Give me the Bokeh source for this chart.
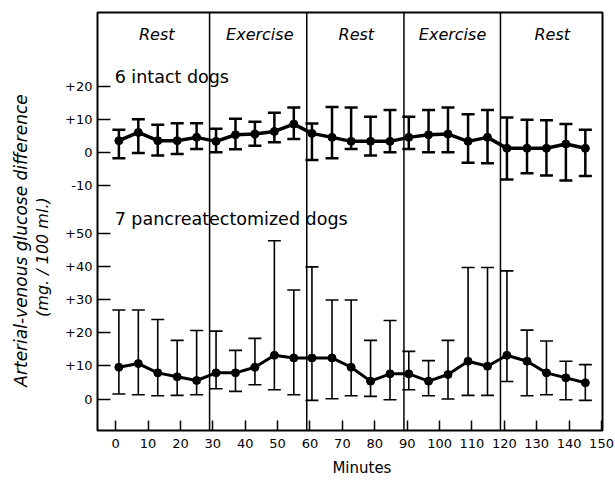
from bokeh.plotting import figure
from bokeh.models import FixedTicker, Span, Label, Whisker, ColumnDataSource, TeeHead, LinearAxis
from bokeh.embed import file_html
from bokeh.resources import INLINE

# ---- data ----
minutes = [1, 7, 13, 19, 25, 31, 37, 43, 49, 55, 60.6, 66.8, 72.7, 78.7, 84.7,
           90.5, 96.6, 102.6, 108.8, 114.8, 120.8, 127, 133, 139, 145]

intact_mean = [3.5, 6.0, 3.5, 3.5, 4.5, 3.3, 5.3, 5.5, 6.3, 8.5, 5.7, 4.5, 3.3,
               3.3, 3.3, 4.5, 5.3, 5.5, 3.3, 4.5, 1.2, 1.2, 1.2, 2.5, 1.2]
intact_upper = [6.8, 10.0, 8.3, 8.8, 8.8, 7.1, 10.1, 9.2, 11.9, 13.5, 8.7, 13.7,
                13.5, 10.7, 12.8, 10.7, 12.8, 13.5, 11.5, 12.8, 10.5, 9.8, 9.7, 8.5, 6.8]
intact_lower = [-1.8, -0.2, -1.0, -0.5, 1.0, 0.0, 0.9, 2.0, 3.0, 4.0, -2.3, -1.8,
                1.0, -1.0, 0.0, 1.0, 0.0, 0.0, -3.2, -3.3, -8.2, -6.3, -7.0, -8.5, -7.2]

panc_mean = [9.6, 10.7, 7.9, 6.7, 5.6, 7.9, 7.9, 9.6, 13.2, 12.4, 12.4, 12.4, 9.6,
             5.4, 7.6, 7.6, 5.4, 7.4, 11.4, 9.9, 13.2, 11.4, 7.9, 6.4, 4.9]
panc_upper = [26.9, 26.9, 24.0, 17.7, 20.7, 20.5, 14.7, 18.3, 47.8, 32.9, 39.9, 29.9,
              29.9, 17.7, 23.7, 14.4, 11.6, 17.7, 39.7, 39.7, 38.7, 20.8, 17.5, 11.4, 10.4]
panc_lower = [1.5, 1.3, 1.0, 1.1, 1.3, 3.1, 2.3, 4.3, 2.8, 1.3, -0.4, 0.1, 1.0,
              0.8, -0.2, 2.8, 1.0, 0.0, 1.1, 1.1, 5.3, 1.0, 1.3, -0.2, -0.4]

phase_bounds = [29, 59, 89, 118.8]
phase_names = ["Rest", "Exercise", "Rest", "Exercise", "Rest"]
phase_centers = [12.7, 44.5, 74.3, 104, 134.8]

x_ticks = [0, 10, 20, 30, 40, 50, 60, 70, 80, 90, 100, 110, 120, 130, 140, 150]
top_ticks = [-10, 0, 10, 20]
top_tick_labels = ["-10", "0", "+10", "+20"]
bottom_ticks = [0, 10, 20, 30, 40, 50]
bottom_tick_labels = ["0", "+10", "+20", "+30", "+40", "+50"]

# layout: upper panel drawn above the lower one on a shared scale
TOP_OFFSET = 74.5
FONT = "DejaVu Sans"

p = figure(width=615, height=481, x_range=(-5.6, 150.3), y_range=(-9.5, 116.7),
           output_backend="svg", toolbar_location=None,
           min_border_left=97, min_border_right=13, min_border_top=12, min_border_bottom=51)
p.grid.visible = False
p.outline_line_color = "black"
p.outline_line_width = 2
p.background_fill_color = "white"
p.border_fill_color = "white"

# x axis
p.xaxis.ticker = FixedTicker(ticks=x_ticks)
p.xaxis.major_tick_in = 10
p.xaxis.major_tick_out = 0
p.xaxis.minor_tick_line_color = None
p.xaxis.axis_line_color = None
p.xaxis.major_tick_line_width = 1.5
p.xaxis.major_tick_line_color = "black"
p.xaxis.major_label_standoff = 8
p.xaxis.major_label_text_font = FONT
p.xaxis.major_label_text_font_size = "13px"
p.xaxis.major_label_text_color = "black"
p.xaxis.axis_label = "\u00a0" * 5 + "Minutes"
p.xaxis.axis_label_standoff = 8
p.xaxis.axis_label_text_font = FONT
p.xaxis.axis_label_text_font_size = "15px"
p.xaxis.axis_label_text_font_style = "normal"
p.xaxis.axis_label_text_color = "black"

# y axis (both panels)
top_pos = [t + TOP_OFFSET for t in top_ticks]
p.yaxis.ticker = FixedTicker(ticks=bottom_ticks + top_pos)
overrides = {}
for t, lab in zip(bottom_ticks, bottom_tick_labels):
    overrides[t] = lab
for t, lab in zip(top_pos, top_tick_labels):
    overrides[t] = lab
p.yaxis.major_label_overrides = overrides
p.yaxis.major_tick_in = 13
p.yaxis.major_tick_out = 0
p.yaxis.minor_tick_line_color = None
p.yaxis.axis_line_color = None
p.yaxis.major_tick_line_width = 1.5
p.yaxis.major_tick_line_color = "black"
p.yaxis.major_label_standoff = 5
p.yaxis.major_label_text_font = FONT
p.yaxis.major_label_text_font_size = "13px"
p.yaxis.major_label_text_color = "black"
p.yaxis.axis_label = "(mg. / 100 ml.)" + " " * 14
p.yaxis.axis_label_standoff = 10
p.yaxis.axis_label_text_font = FONT
p.yaxis.axis_label_text_font_size = "16px"
p.yaxis.axis_label_text_font_style = "italic"
p.yaxis.axis_label_text_color = "black"

# outer title line of the y axis
outer = LinearAxis(ticker=FixedTicker(ticks=[]), axis_line_color=None,
                   major_tick_in=0, major_tick_out=0, minor_tick_in=0, minor_tick_out=0,
                   major_label_standoff=0,
                   axis_label="Arterial-venous glucose difference" + " " * 7,
                   axis_label_standoff=0, axis_label_text_font=FONT,
                   axis_label_text_font_size="17px", axis_label_text_font_style="italic",
                   axis_label_text_color="black")
p.add_layout(outer, "left")

# phase dividers and labels
for b in phase_bounds:
    p.add_layout(Span(location=b, dimension="height", line_color="black", line_width=1.5))
for name, cx in zip(phase_names, phase_centers):
    p.add_layout(Label(x=cx, y=110.2, text=name, text_align="center", text_baseline="middle",
                       text_font=FONT, text_font_size="16px", text_font_style="italic",
                       text_color="black"))

p.add_layout(Label(x=-0.3, y=97.2, text="6 intact dogs", text_baseline="middle",
                   text_font=FONT, text_font_size="17.5px", text_color="black"))
p.add_layout(Label(x=-0.3, y=54.3, text="7 pancreatectomized dogs", text_baseline="middle",
                   text_font=FONT, text_font_size="17.5px", text_color="black"))

# upper panel: intact dogs
src_top = ColumnDataSource(dict(
    x=minutes,
    y=[v + TOP_OFFSET for v in intact_mean],
    upper=[v + TOP_OFFSET for v in intact_upper],
    lower=[v + TOP_OFFSET for v in intact_lower],
))
p.add_layout(Whisker(source=src_top, base="x", upper="upper", lower="lower",
                     line_color="black", line_width=2.5,
                     upper_head=TeeHead(size=13, line_width=2.5, line_color="black"),
                     lower_head=TeeHead(size=13, line_width=2.5, line_color="black")))
p.line("x", "y", source=src_top, line_color="black", line_width=3.5)
p.scatter("x", "y", source=src_top, size=8, color="black")

# lower panel: pancreatectomized dogs
src_bot = ColumnDataSource(dict(x=minutes, y=panc_mean, upper=panc_upper, lower=panc_lower))
p.add_layout(Whisker(source=src_bot, base="x", upper="upper", lower="lower",
                     line_color="black", line_width=1.6,
                     upper_head=TeeHead(size=13, line_width=1.6, line_color="black"),
                     lower_head=TeeHead(size=13, line_width=1.6, line_color="black")))
p.line("x", "y", source=src_bot, line_color="black", line_width=3)
p.scatter("x", "y", source=src_bot, size=8, color="black")

open("out.html", "w").write(file_html(p, INLINE))
